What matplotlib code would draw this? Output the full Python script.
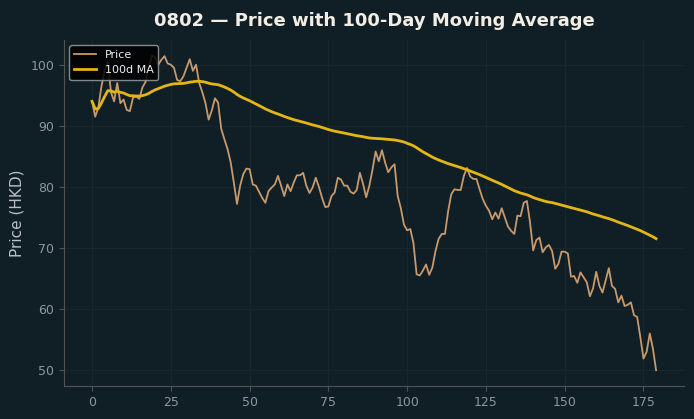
import numpy as np
import pandas as pd
import matplotlib
matplotlib.use("Agg")
import matplotlib.pyplot as plt

TICKER = "0802"
WINDOW = 100

# daily closing prices (HKD)
price = [
    94.0, 91.5, 93.0, 96.5, 99.0, 100.5, 95.5, 94.0, 97.0, 93.7,
    94.3, 92.6, 92.4, 94.6, 94.8, 94.4, 96.3, 97.2, 99.5, 101.5,
    101.2, 100.0, 100.8, 101.4, 100.2, 100.0, 99.5, 97.5, 97.3, 98.1,
    99.5, 100.9, 99.0, 100.0, 97.0, 95.5, 93.7, 91.0, 92.5, 94.5,
    93.8, 89.5, 87.8, 86.2, 84.0, 80.7, 77.2, 80.2, 82.1, 83.0,
    82.9, 80.4, 80.2, 79.2, 78.2, 77.4, 79.3, 79.9, 80.4, 81.8,
    80.2, 78.5, 80.4, 79.3, 80.7, 81.9, 81.9, 82.3, 80.2, 79.0,
    79.9, 81.5, 80.0, 78.2, 76.7, 76.8, 78.5, 79.1, 81.5, 81.2,
    80.2, 80.2, 79.2, 78.9, 79.5, 82.3, 80.5, 78.3, 80.2, 82.8,
    85.8, 84.2, 86.0, 84.0, 82.4, 83.2, 83.7, 78.5, 76.5, 73.8,
    72.9, 73.1, 70.8, 65.7, 65.5, 66.3, 67.3, 65.6, 66.8, 69.5,
    71.5, 72.3, 72.3, 76.0, 78.8, 79.6, 79.5, 79.5, 81.8, 83.1,
    81.7, 81.3, 81.3, 79.6, 78.0, 76.9, 76.1, 74.7, 75.8, 74.8,
    76.5, 75.0, 73.5, 72.8, 72.3, 75.3, 75.2, 77.4, 77.7, 74.2,
    69.6, 71.3, 71.7, 69.3, 70.1, 70.5, 69.5, 66.6, 67.4, 69.4,
    69.4, 69.1, 65.3, 65.4, 64.3, 66.0, 65.2, 64.4, 62.1, 63.4,
    66.1, 63.8, 62.7, 64.7, 66.7, 63.8, 63.3, 61.1, 62.2, 60.5,
    60.7, 61.1, 59.0, 58.7, 55.4, 51.9, 53.0, 56.0, 53.5, 50.0,
]

BG = "#101f26"
PRICE_COLOR = "#c9996c"
MA_COLOR = "#e3b517"

df = pd.DataFrame({"Price": price})
df["MA"] = df["Price"].rolling(WINDOW, min_periods=1).mean()

fig = plt.figure(figsize=(6.94, 4.19), dpi=100, facecolor=BG)
ax = fig.add_axes([0.092, 0.079, 0.894, 0.826])
ax.set_facecolor(BG)

ax.plot(df.index, df["Price"], color=PRICE_COLOR, linewidth=1.3, label="Price")
ax.plot(df.index, df["MA"], color=MA_COLOR, linewidth=2.0, label="100d MA")

ax.set_title(f"{TICKER} \u2014 Price with 100-Day Moving Average",
             color="#f2eee6", fontsize=13, fontweight="bold", pad=10)
ax.set_ylabel("Price (HKD)", color="#b8c0c4", fontsize=11)

ax.grid(True, color="#18272e", linewidth=0.8)
for side in ["top", "right"]:
    ax.spines[side].set_visible(False)
for side in ["left", "bottom"]:
    ax.spines[side].set_color("#55524e")
ax.tick_params(colors="#55524e", labelcolor="#8e979b", labelsize=9)

leg = ax.legend(loc="upper left", fontsize=8, facecolor="black",
                edgecolor="#9aa0a4", framealpha=0.85)
for t in leg.get_texts():
    t.set_color("#eeeeee")

fig.savefig("out.png", dpi=100, facecolor=BG)
